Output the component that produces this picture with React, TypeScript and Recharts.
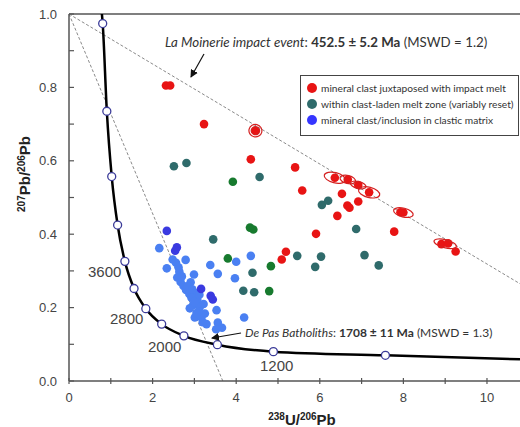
import React from 'react';
import { ComposedChart, XAxis, YAxis, Line, Scatter, ReferenceLine } from 'recharts';

// layout
const W = 520;
const H = 427;
const PLOT_L = 69;
const PLOT_T = 14;
const PLOT_B = 381;
const X_MAX = 10.79;
const PX_X = (W - PLOT_L) / X_MAX;
const PX_Y = (PLOT_B - PLOT_T) / 1;

// concordia (Ma markers every 400 Ma)
const concordiaAges = [5200, 4800, 4400, 4000, 3600, 3200, 2800, 2400, 2000, 1600, 1200, 800];
const concordiaX = [0.806, 0.905, 1.022, 1.163, 1.337, 1.556, 1.838, 2.217, 2.749, 3.55, 4.89, 7.57];
const concordiaY = [0.974, 0.735, 0.557, 0.425, 0.326, 0.252, 0.197, 0.155, 0.123, 0.099, 0.08, 0.07];
const concordiaTop = [0.787, 1.0];
const concordiaEnd = [10.79, 0.059];

// discordia lines (dashed)
const moinerieLine = [[0, 1.0], [10.79, 0.265]];
const dePasLine = [[0, 1.0], [3.68, 0]];

// analyses
const redPts = [
  [2.32, 0.805], [2.42, 0.805], [3.23, 0.7], [4.46, 0.682], [4.35, 0.604], [5.41, 0.582],
  [5.58, 0.519], [6.36, 0.554], [6.67, 0.549], [6.92, 0.534], [7.18, 0.514], [6.53, 0.51],
  [6.92, 0.489], [6.66, 0.478], [6.71, 0.472], [6.42, 0.45], [8.0, 0.459], [7.93, 0.46],
  [7.78, 0.407], [5.91, 0.401], [8.91, 0.373], [9.07, 0.375], [9.25, 0.353], [5.19, 0.352],
  [5.09, 0.331],
];
const tealPts = [
  [2.51, 0.585], [2.81, 0.594], [4.56, 0.556], [6.05, 0.48], [6.2, 0.491], [6.87, 0.414],
  [5.46, 0.341], [6.03, 0.339], [5.89, 0.311], [7.07, 0.343], [7.41, 0.315], [3.45, 0.386],
  [4.39, 0.295], [4.17, 0.246], [4.43, 0.242],
];
const greenPts = [
  [3.92, 0.543], [4.33, 0.418], [4.41, 0.413], [3.8, 0.334], [4.83, 0.313], [4.79, 0.245],
];
const bluePts = [
  [2.16, 0.362], [2.48, 0.331], [2.56, 0.322], [2.79, 0.33], [2.34, 0.307], [2.64, 0.298],
  [2.99, 0.29], [2.59, 0.282], [2.67, 0.27], [2.91, 0.269], [2.74, 0.259], [2.8, 0.248],
  [2.88, 0.237], [3.04, 0.239], [2.93, 0.227], [3.07, 0.221], [2.97, 0.207], [3.13, 0.202],
  [2.89, 0.198], [3.25, 0.184], [3.01, 0.173], [3.17, 0.173], [3.29, 0.155], [3.53, 0.193],
  [3.56, 0.159], [3.52, 0.141], [3.66, 0.145], [3.38, 0.316], [3.56, 0.292], [3.97, 0.28],
  [4.0, 0.325], [4.19, 0.173], [4.35, 0.341], [2.7, 0.285], [2.84, 0.258], [2.95, 0.25],
  [3.0, 0.215], [3.1, 0.19], [3.2, 0.16], [2.62, 0.31], [3.12, 0.235], [3.22, 0.21], [3.05, 0.185],
];
const indigoPts = [
  [2.34, 0.409], [2.58, 0.364], [2.54, 0.355], [3.16, 0.251], [3.39, 0.232], [3.44, 0.222],
];
// error ellipses: x, y, half-width (x units), half-height (y units)
const ellipses = [
  [4.46, 0.682, 0.155, 0.017], [4.46, 0.682, 0.1, 0.011], [6.36, 0.554, 0.26, 0.014],
  [6.67, 0.549, 0.19, 0.011], [6.92, 0.534, 0.19, 0.0095], [7.18, 0.514, 0.26, 0.014],
  [8.0, 0.459, 0.24, 0.012], [9.0, 0.374, 0.275, 0.011],
];

const legendLabels = [
  'mineral clast juxtaposed with impact melt',
  'within clast-laden melt zone (variably reset)',
  'mineral clast/inclusion in clastic matrix',
];
const legendColors = ['#e81414', '#2f6b6b', '#3535ff'];

const xTicks = [0, 1, 2, 3, 4, 5, 6, 7, 8, 9, 10];
const yTicks = [0, 0.1, 0.2, 0.3, 0.4, 0.5, 0.6, 0.7, 0.8, 0.9, 1.0];

const pts = (a: number[][]) => a.map(([x, y]) => ({ x, y }));
const concordiaLine = [
  { x: concordiaTop[0], y: concordiaTop[1] },
  ...concordiaX.map((x, i) => ({ x, y: concordiaY[i] })),
  { x: concordiaEnd[0], y: concordiaEnd[1] },
];
const concordiaMarks = concordiaX.map((x, i) => ({ x, y: concordiaY[i], age: concordiaAges[i] }));
const ellipseData = ellipses.map(([x, y, ex, ey]) => ({ x, y, ex, ey }));

const AX = '#555';
const ARIAL = '"Liberation Sans", Arial, sans-serif';
const TICK_FONT = { fontFamily: ARIAL, fontSize: 13, fill: '#444' };
const NOTE_FONT = '"Lato", "Open Sans", sans-serif';

const dot = (fill: string, r = 4.3) => (p: any) => <circle cx={p.cx} cy={p.cy} r={r} fill={fill} />;

const ConcMark = (p: any) => (
  <circle cx={p.cx} cy={p.cy} r={4} fill="#fff" stroke="#3b3b99" strokeWidth={1.3} />
);

const EllipseShape = (p: any) => {
  const { cx, cy, payload } = p;
  return (
    <ellipse
      cx={cx} cy={cy}
      rx={payload.ex * PX_X} ry={payload.ey * PX_Y}
      fill="none" stroke="#d42020" strokeWidth={1.2}
      transform={`rotate(14 ${cx} ${cy})`}
    />
  );
};

const YTick = (p: any) => {
  const { x, y, payload } = p;
  const v = payload.value;
  const major = Math.round(v * 10) % 2 === 0;
  const ax = x + 12;
  return (
    <g>
      <line x1={ax} x2={ax + 5} y1={y} y2={y} stroke={AX} strokeWidth={1.2} />
      {major && (
        <text x={x} y={y + 4.5} textAnchor="end" {...TICK_FONT}>{v.toFixed(1)}</text>
      )}
    </g>
  );
};

const XTick = (p: any) => {
  const { x, y, payload } = p;
  const v = payload.value;
  const ay = y - 12;
  return (
    <g>
      <line x1={x} x2={x} y1={ay - 3} y2={ay + 3} stroke={AX} strokeWidth={1.2} />
      {v % 2 === 0 && (
        <text x={x} y={y + 9} textAnchor="middle" {...TICK_FONT}>{v}</text>
      )}
    </g>
  );
};

function Notes() {
  const t = { fontFamily: NOTE_FONT, fontSize: 12, fill: '#333' };
  return (
    <svg width={W} height={H} style={{ position: 'absolute', left: 0, top: 0, pointerEvents: 'none' }}>
      <defs>
        <marker id="ah" markerWidth="8" markerHeight="8" refX="7" refY="4" orient="auto" markerUnits="userSpaceOnUse">
          <path d="M0,0 L8,4 L0,8 z" fill="#111" />
        </marker>
      </defs>
      {/* La Moinerie */}
      <text x={165} y={47} {...t} fontSize={13.3}>
        <tspan fontStyle="italic">La Moinerie impact event</tspan>
        <tspan>: </tspan>
        <tspan fontWeight="bold">452.5 ± 5.2 Ma</tspan>
        <tspan> (MSWD = 1.2)</tspan>
      </text>
      <line x1={204} y1={54} x2={191} y2={77} stroke="#111" strokeWidth={1.2} markerEnd="url(#ah)" />

      {/* De Pas */}
      <text x={245} y={337} {...t}>
        <tspan fontStyle="italic">De Pas Batholiths</tspan>
        <tspan>: </tspan>
        <tspan fontWeight="bold">1708 ± 11 Ma</tspan>
        <tspan> (MSWD = 1.3)</tspan>
      </text>
      <line x1={241} y1={333} x2={212} y2={338} stroke="#111" strokeWidth={1.2} markerEnd="url(#ah)" />

      {/* legend */}
      <rect x={300.5} y={75.5} width={218} height={60} fill="#fff" stroke="#444" strokeWidth={1} />
      {legendLabels.map((lab, i) => (
        <g key={lab}>
          <circle cx={312} cy={88 + i * 16} r={5} fill={legendColors[i]} />
          <text x={321} y={92 + i * 16} {...t} fontSize={10.2}>{lab}</text>
        </g>
      ))}

      {/* concordia ages */}
      <g fontFamily={ARIAL} fontSize={15} fill="#444">
        <text x={88} y={277}>3600</text>
        <text x={110} y={324}>2800</text>
        <text x={148} y={352}>2000</text>
        <text x={260} y={371}>1200</text>
      </g>

      {/* axis titles */}
      <text x={302} y={425} textAnchor="middle" fontFamily={ARIAL} fontWeight="bold" fontSize={15} fill="#222">
        <tspan fontSize={10} dy={-5}>238</tspan>
        <tspan dy={5}>U/</tspan>
        <tspan fontSize={10} dy={-5}>206</tspan>
        <tspan dy={5}>Pb</tspan>
      </text>
      <text transform="translate(30,174) rotate(-90)" textAnchor="middle" fontFamily={ARIAL} fontWeight="bold" fontSize={15} fill="#222">
        <tspan fontSize={10} dy={-5}>207</tspan>
        <tspan dy={5}>Pb/</tspan>
        <tspan fontSize={10} dy={-5}>206</tspan>
        <tspan dy={5}>Pb</tspan>
      </text>
    </svg>
  );
}

export default function App() {
  return (
    <div style={{ position: 'absolute', left: 0, top: 0, width: W, height: H, background: '#fff' }}>
      <ComposedChart width={W} height={H} margin={{ top: PLOT_T, right: 0, bottom: 16, left: 0 }}>
        <XAxis
          type="number" dataKey="x" domain={[0, X_MAX]} ticks={xTicks} allowDataOverflow
          height={30} tickSize={0} tickMargin={12} tickLine={false}
          axisLine={{ stroke: AX, strokeWidth: 1.5 }} tick={<XTick />} interval={0}
        />
        <YAxis
          type="number" dataKey="y" domain={[0, 1]} ticks={yTicks} allowDataOverflow
          width={PLOT_L} tickSize={0} tickMargin={12} tickLine={false}
          axisLine={{ stroke: AX, strokeWidth: 1.5 }} tick={<YTick />} interval={0}
        />
        <ReferenceLine y={1} stroke={AX} strokeWidth={1.5} />
        <Line data={pts(moinerieLine)} dataKey="y" type="linear" stroke="#8a8a8a" strokeWidth={1}
          strokeDasharray="3 2" dot={false} isAnimationActive={false} />
        <Line data={pts(dePasLine)} dataKey="y" type="linear" stroke="#8a8a8a" strokeWidth={1}
          strokeDasharray="3 2" dot={false} isAnimationActive={false} />
        <Line data={concordiaLine} dataKey="y" type="monotone" stroke="#000" strokeWidth={2.5}
          dot={false} isAnimationActive={false} />
        <Scatter data={concordiaMarks} shape={ConcMark} isAnimationActive={false} />
        <Scatter data={pts(tealPts)} shape={dot('#2f6b6b')} isAnimationActive={false} />
        <Scatter data={pts(greenPts)} shape={dot('#177a2e')} isAnimationActive={false} />
        <Scatter data={pts(bluePts)} shape={dot('#4a80f2')} isAnimationActive={false} />
        <Scatter data={pts(indigoPts)} shape={dot('#3a3ae0')} isAnimationActive={false} />
        <Scatter data={pts(redPts)} shape={dot('#e81414')} isAnimationActive={false} />
        <Scatter data={ellipseData} shape={EllipseShape} isAnimationActive={false} />
      </ComposedChart>
      <Notes />
    </div>
  );
}
